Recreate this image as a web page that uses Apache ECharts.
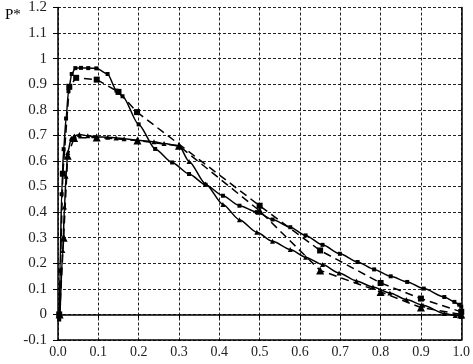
<!DOCTYPE html>
<html>
<head>
<meta charset="utf-8">
<script src="https://cdn.jsdelivr.net/npm/echarts@6/dist/echarts.min.js"></script>
<style>
html,body{margin:0;padding:0;background:#fff;}
#chart{width:473px;height:364px;}
</style>
</head>
<body>
<div id="chart"></div>
<script>
// Tick labels
var xTicks = [0, 0.1, 0.2, 0.3, 0.4, 0.5, 0.6, 0.7, 0.8, 0.9, 1.0];
var xTickLabels = ["0.0","0.1","0.2","0.3","0.4","0.5","0.6","0.7","0.8","0.9","1.0"];
var yTicks = [-0.1,0,0.1,0.2,0.3,0.4,0.5,0.6,0.7,0.8,0.9,1,1.1,1.2];
var yTickLabels = ["-0.1","0","0.1","0.2","0.3","0.4","0.5","0.6","0.7","0.8","0.9","1","1.1","1.2"];
var yTitle = "P*";

// Series A: solid, high peak (small squares)
var solidHigh = [
 [0.003,-0.02],[0.005,0.17],[0.009,0.47],[0.014,0.646],[0.02,0.766],[0.026,0.873],[0.034,0.94],
 [0.043,0.963],[0.057,0.964],[0.075,0.963],[0.095,0.962],[0.123,0.94],[0.145,0.875],[0.16,0.853],
 [0.2,0.743],[0.241,0.647],[0.283,0.594],[0.325,0.549],[0.366,0.507],[0.409,0.464],[0.45,0.425],
 [0.493,0.40],[0.532,0.371],[0.576,0.341],[0.614,0.309],[0.656,0.272],[0.699,0.237],[0.743,0.205],
 [0.784,0.176],[0.825,0.149],[0.866,0.127],[0.907,0.101],[0.958,0.068],[0.983,0.049],[0.995,0.038],[1.0,0.03]
];
// Series B: dashed, high peak (squares)
var dashedHigh = [
 [0.003,0.0],[0.012,0.55],[0.028,0.89],[0.045,0.925],[0.096,0.918],[0.15,0.87],[0.196,0.791],
 [0.5,0.425],[0.65,0.25],[0.8,0.123],[0.9,0.062],[1.0,0.01]
];
// Series C: solid, low peak (small triangles)
var solidLow = [
 [0.005,0.0],[0.012,0.25],[0.016,0.42],[0.02,0.54],[0.024,0.633],[0.033,0.689],[0.041,0.698],
 [0.053,0.703],[0.074,0.699],[0.095,0.694],[0.123,0.693],[0.144,0.69],[0.164,0.687],[0.197,0.681],
 [0.238,0.675],[0.263,0.668],[0.3,0.659],[0.325,0.598],[0.366,0.51],[0.409,0.43],[0.45,0.37],
 [0.493,0.321],[0.532,0.286],[0.576,0.254],[0.614,0.224],[0.656,0.195],[0.697,0.162],[0.74,0.131],
 [0.781,0.107],[0.823,0.084],[0.864,0.058],[0.905,0.036],[0.958,0.004],[0.985,-0.004],[1.0,-0.008]
];
// Series D: dashed, low peak (triangles)
var dashedLow = [
 [0.004,0.0],[0.014,0.3],[0.024,0.62],[0.04,0.69],[0.096,0.692],[0.197,0.68],[0.3,0.659],
 [0.5,0.405],[0.65,0.172],[0.8,0.088],[0.9,0.027],[1.0,0.0]
];

var serif = "'Liberation Serif', 'Times New Roman', serif";
function fmt(ticks, labels){
  return function(v){
    for (var i=0;i<ticks.length;i++){ if (Math.abs(ticks[i]-v)<1e-6) return labels[i]; }
    return "";
  };
}
var chart = echarts.init(document.getElementById('chart'), null, {renderer:'canvas'});
var gridLine = {show:true, lineStyle:{color:'#222', width:1, type:[3,2]}};
chart.setOption({
  animation:false,
  backgroundColor:'#fff',
  title:{text:yTitle, left:0, top:3, textStyle:{fontFamily:serif, fontSize:15, fontWeight:'normal', color:'#000'}},
  grid:{left:58, right:9, top:6, bottom:24, containLabel:false},
  xAxis:[{
    type:'value', min:0, max:1, interval:0.1,
    axisLine:{show:true, onZero:true, lineStyle:{color:'#000', width:1.5}},
    axisTick:{show:true, inside:false, length:4, lineStyle:{color:'#000'}},
    axisLabel:{formatter:fmt(xTicks,xTickLabels), fontFamily:serif, fontSize:14, color:'#222', margin:5},
    splitLine:gridLine
  },{
    type:'value', min:0, max:1, interval:0.1, position:'bottom',
    axisLine:{show:true, onZero:false, lineStyle:{color:'#000', width:1.5}},
    axisTick:{show:false}, axisLabel:{show:false}, splitLine:{show:false}
  }],
  yAxis:[{
    type:'value', min:-0.1, max:1.2, interval:0.1,
    axisLine:{show:true, onZero:false, lineStyle:{color:'#000', width:1.5}},
    axisTick:{show:true, length:5, lineStyle:{color:'#000'}},
    axisLabel:{formatter:fmt(yTicks,yTickLabels), fontFamily:serif, fontSize:15, color:'#222', margin:11},
    splitLine:gridLine
  },{
    type:'value', min:-0.1, max:1.2, interval:0.1, position:'right',
    axisLine:{show:true, onZero:false, lineStyle:{color:'#000', width:1.5}},
    axisTick:{show:false}, axisLabel:{show:false}, splitLine:{show:false}
  }],
  series:[
    {type:'line', data:solidHigh, smooth:0.25, smoothMonotone:'x', symbol:'rect', symbolSize:4,
     itemStyle:{color:'#000'}, lineStyle:{color:'#000', width:1.5}, z:3},
    {type:'line', data:dashedHigh, smooth:false, symbol:'rect', symbolSize:6,
     itemStyle:{color:'#000'}, lineStyle:{color:'#000', width:1.5, type:[8,5]}, z:3},
    {type:'line', data:solidLow, smooth:0.25, smoothMonotone:'x', symbol:'triangle', symbolSize:5,
     itemStyle:{color:'#000'}, lineStyle:{color:'#000', width:1.5}, z:3},
    {type:'line', data:dashedLow, smooth:false, symbol:'triangle', symbolSize:8,
     itemStyle:{color:'#000'}, lineStyle:{color:'#000', width:1.5, type:[8,5]}, z:3}
  ]
});
</script>
</body>
</html>
